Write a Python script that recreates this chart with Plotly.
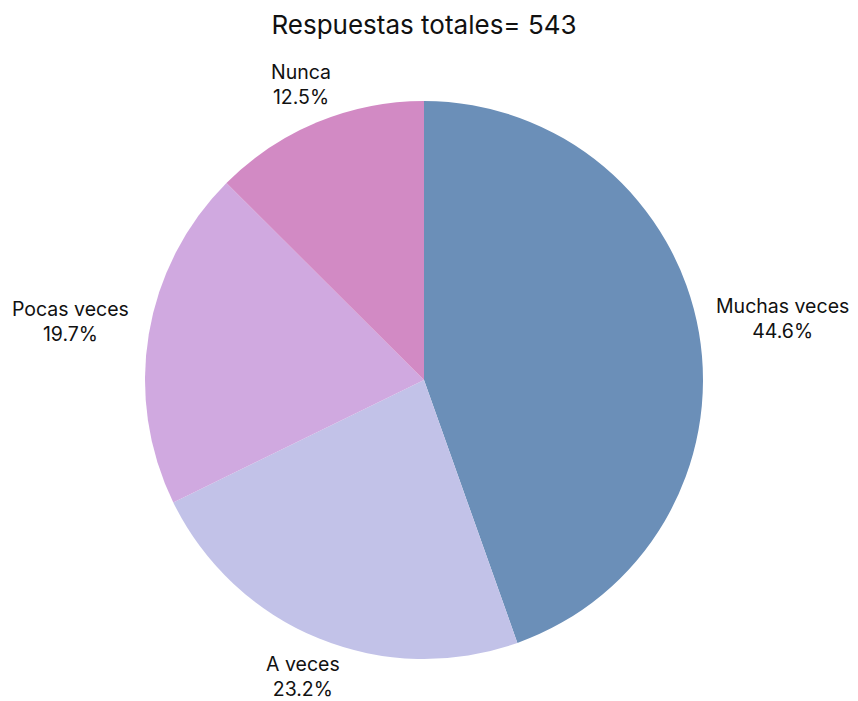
import math
import plotly.graph_objects as go

labels = ["Muchas veces", "A veces", "Pocas veces", "Nunca"]
counts = [242, 126, 107, 68]
colors = ["#6b8fb8", "#c2c2e8", "#d0a9e0", "#d28ac4"]
title_text = "Respuestas totales= 543"

FONT = "Inter"
LABEL_SIZE = 19.5
W, H = 858, 701
ML, MR, MT, MB = 145, 155, 101, 42
plot_w = W - ML - MR
plot_h = H - MT - MB
R_px = min(plot_w, plot_h) / 2

fig = go.Figure(go.Pie(
    labels=labels,
    values=counts,
    sort=False,
    direction="clockwise",
    rotation=0,
    marker=dict(colors=colors, line=dict(width=0)),
    textinfo="none",
    showlegend=False,
    hoverinfo="label+percent",
))

# outside labels placed radially from the slice mid-angle (derived from data)
total = sum(counts)
cum = 0
annotations = []
char_w = 0.6 * LABEL_SIZE
line_h = 1.3 * LABEL_SIZE
gap = 14
for lab, c in zip(labels, counts):
    mid = (cum + c / 2) / total
    cum += c
    th = 2 * math.pi * mid
    ux, uy = math.sin(th), math.cos(th)  # uy: up positive
    pct = f"{100 * c / total:.1f}%"
    text = f"{lab}<br>{pct}"
    hw = 0.5 * max(len(lab), len(pct)) * char_w
    hh = 0.5 * 2 * line_h
    bx = hw / abs(ux) if abs(ux) > 1e-9 else 1e9
    by = hh / abs(uy) if abs(uy) > 1e-9 else 1e9
    d = gap + min(bx, by)
    annotations.append(dict(
        text=text,
        xref="paper", yref="paper",
        x=0.5 + 0.5 * ux * (2 * R_px / plot_w),
        y=0.5 + 0.5 * uy * (2 * R_px / plot_h),
        xshift=ux * d, yshift=uy * d,
        xanchor="center", yanchor="middle",
        showarrow=False, align="center",
        font=dict(size=LABEL_SIZE, color="#111111", family=FONT),
    ))

fig.update_layout(
    width=W, height=H,
    title=dict(text=title_text, xref="paper", x=0.5, xanchor="center",
               yref="container", y=1 - 25 / H, yanchor="middle",
               font=dict(size=26, color="#111111", family=FONT)),
    margin=dict(l=ML, r=MR, t=MT, b=MB, autoexpand=False),
    annotations=annotations,
    paper_bgcolor="white",
    plot_bgcolor="white",
)

fig.write_html("out.html")
